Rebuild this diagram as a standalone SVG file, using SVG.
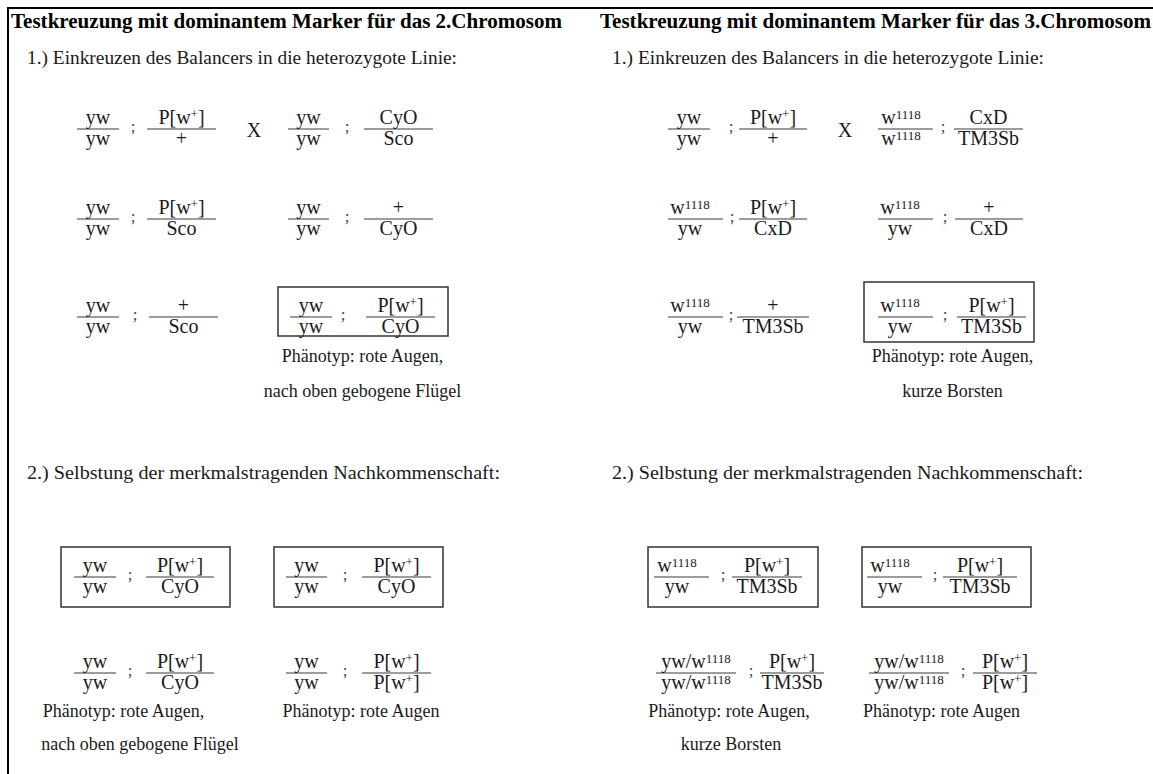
<svg xmlns="http://www.w3.org/2000/svg" width="1153" height="774" viewBox="0 0 1153 774">
<style>
text{font-family:"Liberation Serif","Times New Roman",serif;fill:#1a1a1a}
.title{font-size:20px;font-weight:bold;fill:#000}
.step{font-size:19px}
.ph{font-size:18px;text-anchor:middle}
.f{font-size:20px;text-anchor:middle}
.sup{font-size:13px}
.semi{font-size:17px;text-anchor:middle;fill:#444}
.x{font-size:20px;text-anchor:middle}
.fl{stroke:#3a3a3a;stroke-width:1.1}
.box{fill:none;stroke:#333;stroke-width:1.5}
.frame{stroke:#000;stroke-width:2}
</style>
<g id="frame"><line class="frame" x1="7" y1="8" x2="1153" y2="8"/><line class="frame" x1="8" y1="7" x2="8" y2="774"/></g>
<g id="connectors"></g>

<g id="title-left"><text class="title" x="11" y="28" textLength="551" lengthAdjust="spacingAndGlyphs">Testkreuzung mit dominantem Marker für das 2.Chromosom</text></g>
<g id="title-right"><text class="title" x="600" y="28" textLength="551" lengthAdjust="spacingAndGlyphs">Testkreuzung mit dominantem Marker für das 3.Chromosom</text></g>
<g id="step1-left"><text class="step" x="27" y="64" textLength="430" lengthAdjust="spacingAndGlyphs">1.) Einkreuzen des Balancers in die heterozygote Linie:</text></g>
<g id="step1-right"><text class="step" x="612" y="64" textLength="432" lengthAdjust="spacingAndGlyphs">1.) Einkreuzen des Balancers in die heterozygote Linie:</text></g>
<g id="step2-left"><text class="step" x="27" y="479" textLength="473" lengthAdjust="spacingAndGlyphs">2.) Selbstung der merkmalstragenden Nachkommenschaft:</text></g>
<g id="step2-right"><text class="step" x="612" y="479" textLength="471" lengthAdjust="spacingAndGlyphs">2.) Selbstung der merkmalstragenden Nachkommenschaft:</text></g>

<!-- LEFT row 1 -->
<g id="l-r1-p1">
<line class="fl" x1="77" y1="129" x2="119" y2="129"/><text class="f" x="98" y="124">yw</text><text class="f" x="98" y="145">yw</text>
<text class="semi" x="133" y="132">;</text>
<line class="fl" x1="147" y1="129" x2="216" y2="129"/><text class="f" x="181.5" y="124">P[w<tspan class="sup" dy="-6">+</tspan><tspan dy="6">]</tspan></text><text class="f" x="181.5" y="145">+</text>
</g>
<g id="l-r1-x"><text class="x" x="254" y="137">X</text></g>
<g id="l-r1-p2">
<line class="fl" x1="288" y1="129" x2="329" y2="129"/><text class="f" x="308.5" y="124">yw</text><text class="f" x="308.5" y="145">yw</text>
<text class="semi" x="347" y="132">;</text>
<line class="fl" x1="364" y1="129" x2="433" y2="129"/><text class="f" x="398.5" y="124">CyO</text><text class="f" x="398.5" y="145">Sco</text>
</g>
<!-- LEFT row 2 -->
<g id="l-r2-a">
<line class="fl" x1="77" y1="219" x2="119" y2="219"/><text class="f" x="98" y="214">yw</text><text class="f" x="98" y="235">yw</text>
<text class="semi" x="133" y="222">;</text>
<line class="fl" x1="147" y1="219" x2="216" y2="219"/><text class="f" x="181.5" y="214">P[w<tspan class="sup" dy="-6">+</tspan><tspan dy="6">]</tspan></text><text class="f" x="181.5" y="235">Sco</text>
</g>
<g id="l-r2-b">
<line class="fl" x1="288" y1="219" x2="329" y2="219"/><text class="f" x="308.5" y="214">yw</text><text class="f" x="308.5" y="235">yw</text>
<text class="semi" x="347" y="222">;</text>
<line class="fl" x1="364" y1="219" x2="433" y2="219"/><text class="f" x="398.5" y="214">+</text><text class="f" x="398.5" y="235">CyO</text>
</g>
<!-- LEFT row 3 -->
<g id="l-r3-a">
<line class="fl" x1="77" y1="317" x2="119" y2="317"/><text class="f" x="98" y="312">yw</text><text class="f" x="98" y="333">yw</text>
<text class="semi" x="135" y="320">;</text>
<line class="fl" x1="149" y1="317" x2="218" y2="317"/><text class="f" x="183.5" y="312">+</text><text class="f" x="183.5" y="333">Sco</text>
</g>
<g id="l-r3-b">
<rect class="box" x="278" y="287" width="170" height="49"/>
<line class="fl" x1="290" y1="317" x2="332" y2="317"/><text class="f" x="311" y="312">yw</text><text class="f" x="311" y="333">yw</text>
<text class="semi" x="343" y="320">;</text>
<line class="fl" x1="366" y1="317" x2="435" y2="317"/><text class="f" x="400.5" y="312">P[w<tspan class="sup" dy="-6">+</tspan><tspan dy="6">]</tspan></text><text class="f" x="400.5" y="333">CyO</text>
</g>
<g id="l-r3-pheno"><text class="ph" x="362.5" y="362">Phänotyp: rote Augen,</text><text class="ph" x="362.5" y="397">nach oben gebogene Flügel</text></g>

<!-- RIGHT row 1 -->
<g id="r-r1-p1">
<line class="fl" x1="668" y1="129" x2="710" y2="129"/><text class="f" x="689" y="124">yw</text><text class="f" x="689" y="145">yw</text>
<text class="semi" x="731" y="132">;</text>
<line class="fl" x1="739" y1="129" x2="807" y2="129"/><text class="f" x="773" y="124">P[w<tspan class="sup" dy="-6">+</tspan><tspan dy="6">]</tspan></text><text class="f" x="773" y="145">+</text>
</g>
<g id="r-r1-x"><text class="x" x="845" y="137">X</text></g>
<g id="r-r1-p2">
<line class="fl" x1="878" y1="129" x2="933" y2="129"/><text class="f" x="901" y="124">w<tspan class="sup" dy="-5">1118</tspan></text><text class="f" x="901" y="145">w<tspan class="sup" dy="-5">1118</tspan></text>
<text class="semi" x="943" y="132">;</text>
<line class="fl" x1="954" y1="129" x2="1023" y2="129"/><text class="f" x="988.5" y="124">CxD</text><text class="f" x="988.5" y="145">TM3Sb</text>
</g>
<!-- RIGHT row 2 -->
<g id="r-r2-a">
<line class="fl" x1="668" y1="219" x2="723" y2="219"/><text class="f" x="690" y="214">w<tspan class="sup" dy="-5">1118</tspan></text><text class="f" x="690" y="235">yw</text>
<text class="semi" x="732" y="222">;</text>
<line class="fl" x1="739" y1="219" x2="807" y2="219"/><text class="f" x="773" y="214">P[w<tspan class="sup" dy="-6">+</tspan><tspan dy="6">]</tspan></text><text class="f" x="773" y="235">CxD</text>
</g>
<g id="r-r2-b">
<line class="fl" x1="878" y1="219" x2="933" y2="219"/><text class="f" x="900" y="214">w<tspan class="sup" dy="-5">1118</tspan></text><text class="f" x="900" y="235">yw</text>
<text class="semi" x="945" y="222">;</text>
<line class="fl" x1="955" y1="219" x2="1023" y2="219"/><text class="f" x="989" y="214">+</text><text class="f" x="989" y="235">CxD</text>
</g>
<!-- RIGHT row 3 -->
<g id="r-r3-a">
<line class="fl" x1="668" y1="317" x2="723" y2="317"/><text class="f" x="690" y="312">w<tspan class="sup" dy="-5">1118</tspan></text><text class="f" x="690" y="333">yw</text>
<text class="semi" x="731" y="320">;</text>
<line class="fl" x1="737" y1="317" x2="809" y2="317"/><text class="f" x="773" y="312">+</text><text class="f" x="773" y="333">TM3Sb</text>
</g>
<g id="r-r3-b">
<rect class="box" x="864" y="282" width="170" height="60"/>
<line class="fl" x1="878" y1="317" x2="933" y2="317"/><text class="f" x="900" y="312">w<tspan class="sup" dy="-5">1118</tspan></text><text class="f" x="900" y="333">yw</text>
<text class="semi" x="945" y="320">;</text>
<line class="fl" x1="957" y1="317" x2="1026" y2="317"/><text class="f" x="991.5" y="312">P[w<tspan class="sup" dy="-6">+</tspan><tspan dy="6">]</tspan></text><text class="f" x="991.5" y="333">TM3Sb</text>
</g>
<g id="r-r3-pheno"><text class="ph" x="952.5" y="362">Phänotyp: rote Augen,</text><text class="ph" x="952.5" y="397">kurze Borsten</text></g>

<!-- LEFT section 2 boxes -->
<g id="l-s2-box1">
<rect class="box" x="61" y="547" width="169" height="60"/>
<line class="fl" x1="74" y1="577" x2="116" y2="577"/><text class="f" x="95" y="572">yw</text><text class="f" x="95" y="593">yw</text>
<text class="semi" x="130" y="580">;</text>
<line class="fl" x1="146" y1="577" x2="214" y2="577"/><text class="f" x="180" y="572">P[w<tspan class="sup" dy="-6">+</tspan><tspan dy="6">]</tspan></text><text class="f" x="180" y="593">CyO</text>
</g>
<g id="l-s2-box2">
<rect class="box" x="274" y="547" width="169" height="60"/>
<line class="fl" x1="286" y1="577" x2="327" y2="577"/><text class="f" x="306.5" y="572">yw</text><text class="f" x="306.5" y="593">yw</text>
<text class="semi" x="345" y="580">;</text>
<line class="fl" x1="362" y1="577" x2="431" y2="577"/><text class="f" x="396.5" y="572">P[w<tspan class="sup" dy="-6">+</tspan><tspan dy="6">]</tspan></text><text class="f" x="396.5" y="593">CyO</text>
</g>
<g id="l-s2-a">
<line class="fl" x1="74" y1="673" x2="116" y2="673"/><text class="f" x="95" y="668">yw</text><text class="f" x="95" y="689">yw</text>
<text class="semi" x="130" y="676">;</text>
<line class="fl" x1="146" y1="673" x2="214" y2="673"/><text class="f" x="180" y="668">P[w<tspan class="sup" dy="-6">+</tspan><tspan dy="6">]</tspan></text><text class="f" x="180" y="689">CyO</text>
</g>
<g id="l-s2-b">
<line class="fl" x1="286" y1="673" x2="327" y2="673"/><text class="f" x="306.5" y="668">yw</text><text class="f" x="306.5" y="689">yw</text>
<text class="semi" x="345" y="676">;</text>
<line class="fl" x1="362" y1="673" x2="431" y2="673"/><text class="f" x="396.5" y="668">P[w<tspan class="sup" dy="-6">+</tspan><tspan dy="6">]</tspan></text><text class="f" x="396.5" y="689">P[w<tspan class="sup" dy="-6">+</tspan><tspan dy="6">]</tspan></text>
</g>
<g id="l-s2-pheno-a"><text class="ph" x="123.5" y="717">Phänotyp: rote Augen,</text><text class="ph" x="140" y="750">nach oben gebogene Flügel</text></g>
<g id="l-s2-pheno-b"><text class="ph" x="361" y="717">Phänotyp: rote Augen</text></g>

<!-- RIGHT section 2 boxes -->
<g id="r-s2-box1">
<rect class="box" x="648" y="547" width="170" height="60"/>
<line class="fl" x1="654" y1="577" x2="709" y2="577"/><text class="f" x="677" y="572">w<tspan class="sup" dy="-5">1118</tspan></text><text class="f" x="677" y="593">yw</text>
<text class="semi" x="723" y="580">;</text>
<line class="fl" x1="732" y1="577" x2="802" y2="577"/><text class="f" x="767" y="572">P[w<tspan class="sup" dy="-6">+</tspan><tspan dy="6">]</tspan></text><text class="f" x="767" y="593">TM3Sb</text>
</g>
<g id="r-s2-box2">
<rect class="box" x="862" y="547" width="169" height="60"/>
<line class="fl" x1="867" y1="577" x2="922" y2="577"/><text class="f" x="890" y="572">w<tspan class="sup" dy="-5">1118</tspan></text><text class="f" x="890" y="593">yw</text>
<text class="semi" x="935" y="580">;</text>
<line class="fl" x1="943" y1="577" x2="1017" y2="577"/><text class="f" x="980" y="572">P[w<tspan class="sup" dy="-6">+</tspan><tspan dy="6">]</tspan></text><text class="f" x="980" y="593">TM3Sb</text>
</g>
<g id="r-s2-a">
<line class="fl" x1="656" y1="673" x2="736" y2="673"/><text class="f" x="696" y="668">yw/w<tspan class="sup" dy="-5">1118</tspan></text><text class="f" x="696" y="689">yw/w<tspan class="sup" dy="-5">1118</tspan></text>
<text class="semi" x="751" y="676">;</text>
<line class="fl" x1="760" y1="673" x2="824" y2="673"/><text class="f" x="792" y="668">P[w<tspan class="sup" dy="-6">+</tspan><tspan dy="6">]</tspan></text><text class="f" x="792" y="689">TM3Sb</text>
</g>
<g id="r-s2-b">
<line class="fl" x1="869" y1="673" x2="949" y2="673"/><text class="f" x="909" y="668">yw/w<tspan class="sup" dy="-5">1118</tspan></text><text class="f" x="909" y="689">yw/w<tspan class="sup" dy="-5">1118</tspan></text>
<text class="semi" x="963" y="676">;</text>
<line class="fl" x1="973" y1="673" x2="1037" y2="673"/><text class="f" x="1005" y="668">P[w<tspan class="sup" dy="-6">+</tspan><tspan dy="6">]</tspan></text><text class="f" x="1005" y="689">P[w<tspan class="sup" dy="-6">+</tspan><tspan dy="6">]</tspan></text>
</g>
<g id="r-s2-pheno-a"><text class="ph" x="729" y="717">Phänotyp: rote Augen,</text><text class="ph" x="731" y="750">kurze Borsten</text></g>
<g id="r-s2-pheno-b"><text class="ph" x="941.5" y="717">Phänotyp: rote Augen</text></g>
</svg>
